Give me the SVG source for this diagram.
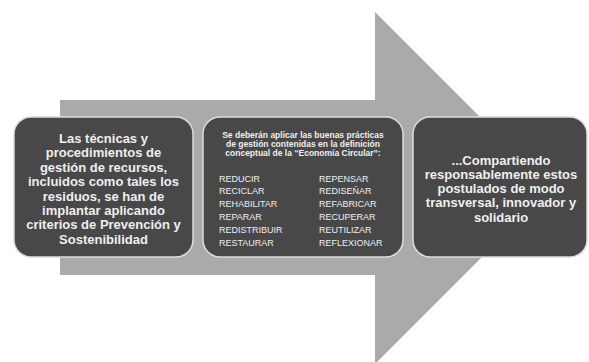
<svg xmlns="http://www.w3.org/2000/svg" width="589" height="362" viewBox="0 0 589 362">
  <style>
    .box { fill: #484848; stroke: #dcdcdc; stroke-width: 1.5; }
    .big { font-family: "Liberation Sans", Arial, sans-serif; font-size: 13px; font-weight: bold; fill: #efefef; text-anchor: middle; }
    .hdr { font-family: "Liberation Sans", Arial, sans-serif; font-size: 8.5px; font-weight: bold; fill: #efefef; text-anchor: middle; }
    .lst { font-family: "Liberation Sans", Arial, sans-serif; font-size: 9px; fill: #efefef; }
  </style>
  <rect x="0" y="0" width="589" height="362" fill="#ffffff"/>
  <g id="arrow">
    <polygon points="60,100 375,100 375,12 551,188 375,364 375,275 60,275" fill="#aaaaaa"/>
  </g>
  <g id="node-left">
    <rect class="box" x="14" y="117" width="179" height="140" rx="17" ry="17"/>
    <text class="big" x="103.5" y="143">Las técnicas y</text>
    <text class="big" x="103.5" y="157.4">procedimientos de</text>
    <text class="big" x="103.5" y="171.8">gestión de recursos,</text>
    <text class="big" x="103.5" y="186.2">incluidos como tales los</text>
    <text class="big" x="103.5" y="200.6">residuos, se han de</text>
    <text class="big" x="103.5" y="215">implantar aplicando</text>
    <text class="big" x="103.5" y="229.4">criterios de Prevención y</text>
    <text class="big" x="103.5" y="243.8">Sostenibilidad</text>
  </g>
  <g id="node-middle">
    <rect class="box" x="203" y="117" width="200" height="140" rx="17" ry="17"/>
    <text class="hdr" x="303" y="138">Se deberán aplicar  las buenas prácticas</text>
    <text class="hdr" x="303" y="147">de gestión contenidas en la definición</text>
    <text class="hdr" x="303" y="156">conceptual de la “Economía Circular”:</text>
    <text class="lst" x="219" y="181.5">REDUCIR</text>
    <text class="lst" x="219" y="194.3">RECICLAR</text>
    <text class="lst" x="219" y="207.1">REHABILITAR</text>
    <text class="lst" x="219" y="219.9">REPARAR</text>
    <text class="lst" x="219" y="232.7">REDISTRIBUIR</text>
    <text class="lst" x="219" y="245.5">RESTAURAR</text>
    <text class="lst" x="319" y="181.5">REPENSAR</text>
    <text class="lst" x="319" y="194.3">REDISEÑAR</text>
    <text class="lst" x="319" y="207.1">REFABRICAR</text>
    <text class="lst" x="319" y="219.9">RECUPERAR</text>
    <text class="lst" x="319" y="232.7">REUTILIZAR</text>
    <text class="lst" x="319" y="245.5">REFLEXIONAR</text>
  </g>
  <g id="node-right">
    <rect class="box" x="413" y="117" width="174" height="140" rx="17" ry="17"/>
    <text class="big" x="501" y="164.5">...Compartiendo</text>
    <text class="big" x="501" y="178.8">responsablemente estos</text>
    <text class="big" x="501" y="193.1">postulados de modo</text>
    <text class="big" x="501" y="207.4">transversal, innovador y</text>
    <text class="big" x="501" y="221.7">solidario</text>
  </g>
</svg>
